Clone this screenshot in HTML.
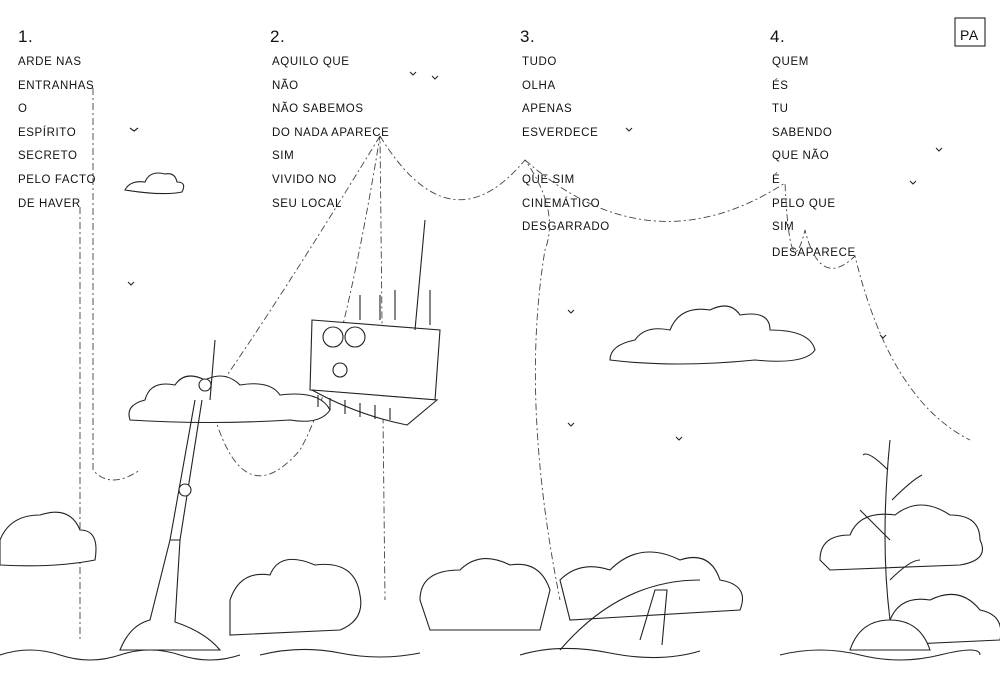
<!DOCTYPE html>
<html><head><meta charset="utf-8"><style>
html,body{margin:0;padding:0;background:#fff;}
svg{display:block}
text{font-family:"Liberation Sans",sans-serif;font-size:11.5px;fill:#111;letter-spacing:0.6px}
.n{font-size:17px}
.l{fill:none;stroke:#222;stroke-width:1.1}
.d{fill:none;stroke:#444;stroke-width:0.9;stroke-dasharray:7 3 2 3}
.c{fill:#fff;stroke:#222;stroke-width:1.1}
</style></head><body>
<svg width="1000" height="693" viewBox="0 0 1000 693">
<rect width="1000" height="693" fill="#fff"/>
<g>
<text x="18" y="42" class="n">1.</text>
<text x="18" y="65">ARDE NAS</text><text x="18" y="89">ENTRANHAS</text><text x="18" y="112">O</text>
<text x="18" y="136">ESPÍRITO</text><text x="18" y="159">SECRETO</text><text x="18" y="183">PELO FACTO</text><text x="18" y="207">DE HAVER</text>
<text x="270" y="42" class="n">2.</text>
<text x="272" y="65">AQUILO QUE</text><text x="272" y="89">NÃO</text><text x="272" y="112">NÃO SABEMOS</text>
<text x="272" y="136">DO NADA APARECE</text><text x="272" y="159">SIM</text><text x="272" y="183">VIVIDO NO</text><text x="272" y="207">SEU LOCAL</text>
<text x="520" y="42" class="n">3.</text>
<text x="522" y="65">TUDO</text><text x="522" y="89">OLHA</text><text x="522" y="112">APENAS</text><text x="522" y="136">ESVERDECE</text>
<text x="522" y="183">QUE SIM</text><text x="522" y="207">CINEMÁTICO</text><text x="522" y="230">DESGARRADO</text>
<text x="770" y="42" class="n">4.</text>
<text x="772" y="65">QUEM</text><text x="772" y="89">ÉS</text><text x="772" y="112">TU</text><text x="772" y="136">SABENDO</text>
<text x="772" y="159">QUE NÃO</text><text x="772" y="183">É</text><text x="772" y="207">PELO QUE</text><text x="772" y="230">SIM</text><text x="772" y="256">DESAPARECE</text>
</g>
<rect x="955" y="18" width="30" height="28" class="l"/><text x="960" y="40" style="font-size:14px">PA</text>
<path class="d" d="M93 88 L93 470 Q110 490 140 470"/>
<path class="d" d="M80 207 L80 640"/>
<path class="d" d="M380 136 Q280 300 210 400 Q240 520 300 450 Q340 380 380 136 L385 600"/>
<path class="d" d="M380 136 Q450 250 525 160 Q560 210 545 250 Q520 400 560 600"/>
<path class="d" d="M525 160 Q650 270 785 183 Q790 290 805 230 Q820 290 855 256 Q890 400 970 440"/>
<path class="c" d="M125 190 q5 -10 20 -8 q5 -12 20 -8 q10 -2 12 8 q10 0 5 10 q-20 4 -57 -2z"/>
<path class="c" d="M130 420 q-5 -15 15 -20 q5 -20 30 -15 q10 -15 30 -5 q20 -10 35 5 q30 -5 40 10 q40 -5 50 15 q-10 15 -40 10 q-80 5 -160 0z"/>
<path class="c" d="M610 360 q0 -15 25 -20 q10 -15 35 -10 q10 -25 40 -20 q20 -10 30 5 q30 -5 30 15 q40 0 45 20 q-10 15 -60 10 q-80 8 -145 0z"/>
<path class="c" d="M0 540 q10 -25 40 -25 q30 -10 40 15 q20 0 15 30 q-40 8 -95 5z"/>
<path class="c" d="M230 600 q10 -30 40 -25 q10 -25 45 -10 q40 -5 45 30 q5 25 -20 35 l-110 5z"/>
<path class="c" d="M420 600 q0 -30 40 -30 q20 -20 50 -5 q30 -5 40 25 l-10 40 l-110 0z"/>
<path class="c" d="M560 580 q20 -20 50 -10 q30 -30 70 -10 q30 -10 40 20 q30 5 20 30 l-170 10z"/>
<path class="c" d="M820 560 q0 -25 30 -25 q10 -25 45 -20 q25 -20 55 0 q30 0 30 25 q10 20 -20 25 l-130 5z"/>
<path class="c" d="M890 620 q10 -25 40 -20 q30 -15 50 10 q25 5 20 30 l-110 5z"/>
<path class="l" d="M0 655 q30 -10 60 0 t60 0 t60 0 t60 0 M260 655 q40 -10 80 -2 t80 0 M520 655 q40 -12 90 -2 t90 -2 M780 655 q40 -10 80 0 t80 0 t40 0"/>
<path class="c" d="M120 650 q10 -25 30 -30 l20 -80 l10 0 l-5 82 q30 10 45 28z"/>
<path class="l" d="M170 540 l25 -140 M180 540 l22 -140 M210 400 l5 -60"/>
<circle cx="185" cy="490" r="6" class="c"/><circle cx="205" cy="385" r="6" class="c"/>
<path class="c" d="M312 320 l128 10 l-5 70 l-125 -10z"/>
<path class="c" d="M312 390 l125 10 l-30 25 q-50 -10 -95 -35z"/>
<path class="l" d="M318 395 l0 12 M330 398 l0 12 M345 400 l0 14 M360 403 l0 14 M375 405 l0 14 M390 408 l0 12"/>
<circle cx="333" cy="337" r="10" class="c"/><circle cx="355" cy="337" r="10" class="c"/>
<circle cx="340" cy="370" r="7" class="c"/>
<path class="l" d="M415 330 L425 220 M360 320 l0 -25 M380 320 l0 -25 M395 320 l0 -30 M430 325 l0 -35"/>
<path class="l" d="M560 650 q60 -70 140 -70 M640 640 l15 -50 l12 0 l-5 55"/>
<path class="c" d="M850 650 q10 -30 40 -30 q30 0 40 30z"/>
<path class="l" d="M890 620 q-10 -80 0 -180 M890 540 q-20 -20 -30 -30 M892 500 q20 -20 30 -25 M888 470 q-20 -20 -25 -15 M890 580 q20 -20 30 -20"/>
<path class="l" d="M130 128 l4 3 l4 -3 M410 72 l3 3 l3 -3 M432 76 l3 3 l3 -3 M626 128 l3 3 l3 -3 M910 181 l3 3 l3 -3 M936 148 l3 3 l3 -3 M128 282 l3 3 l3 -3 M568 310 l3 3 l3 -3 M676 437 l3 3 l3 -3 M880 335 l3 3 l3 -3 M568 423 l3 3 l3 -3"/>
</svg>
</body></html>
